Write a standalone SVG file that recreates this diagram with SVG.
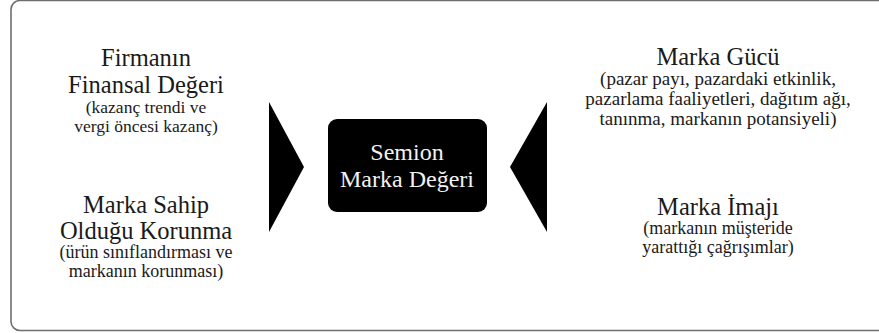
<svg xmlns="http://www.w3.org/2000/svg" width="879" height="333" viewBox="0 0 879 333">
  <style>
    .frame { fill: #ffffff; stroke: #6e6e6e; stroke-width: 1.6; }
    .title { font-family: "Liberation Serif", "Times New Roman", serif; font-size: 24.5px; fill: #1a1a1a; text-anchor: middle; }
    .sub { font-family: "Liberation Serif", "Times New Roman", serif; font-size: 18px; fill: #1a1a1a; text-anchor: middle; }
    .sub-wide { font-size: 19px; }
    .sub-narrow { font-size: 17.5px; }
    .core { fill: #000000; }
    .core-text { font-family: "Liberation Serif", "Times New Roman", serif; font-size: 24px; fill: #f2f2f2; text-anchor: middle; }
    .arrow { fill: #000000; }
  </style>

  <!-- outer panel -->
  <rect class="frame" x="11" y="0.5" width="880" height="330" rx="9" ry="9"/>

  <!-- left inputs -->
  <g id="finansal-deger">
    <text class="title" x="146" y="66">Firmanın</text>
    <text class="title" x="146" y="93">Finansal Değeri</text>
    <text class="sub sub-narrow" x="146" y="113">(kazanç trendi ve</text>
    <text class="sub sub-narrow" x="146" y="132">vergi öncesi kazanç)</text>
  </g>

  <g id="koruma">
    <text class="title" x="146" y="213">Marka Sahip</text>
    <text class="title" x="146" y="239">Olduğu Korunma</text>
    <text class="sub" x="146" y="258">(ürün sınıflandırması ve</text>
    <text class="sub" x="146" y="277">markanın korunması)</text>
  </g>

  <!-- right inputs -->
  <g id="marka-gucu">
    <text class="title" x="718" y="65">Marka Gücü</text>
    <text class="sub sub-wide" x="718" y="85">(pazar payı, pazardaki etkinlik,</text>
    <text class="sub sub-wide" x="718" y="105">pazarlama faaliyetleri, dağıtım ağı,</text>
    <text class="sub sub-wide" x="718" y="125">tanınma, markanın potansiyeli)</text>
  </g>

  <g id="marka-imaji">
    <text class="title" x="718" y="215">Marka İmajı</text>
    <text class="sub" x="718" y="234">(markanın müşteride</text>
    <text class="sub" x="718" y="253">yarattığı çağrışımlar)</text>
  </g>

  <!-- central result -->
  <g id="semion">
    <rect class="core" x="328" y="119" width="159" height="93" rx="9" ry="9"/>
    <text class="core-text" x="407" y="160">Semion</text>
    <text class="core-text" x="407" y="187">Marka Değeri</text>
  </g>

  <!-- connectors: wedge arrows pointing at the centre -->
  <g id="connectors">
    <polygon class="arrow" points="269,102 304,167 269,232"/>
    <polygon class="arrow" points="547,102 510,167 547,232"/>
  </g>
</svg>
